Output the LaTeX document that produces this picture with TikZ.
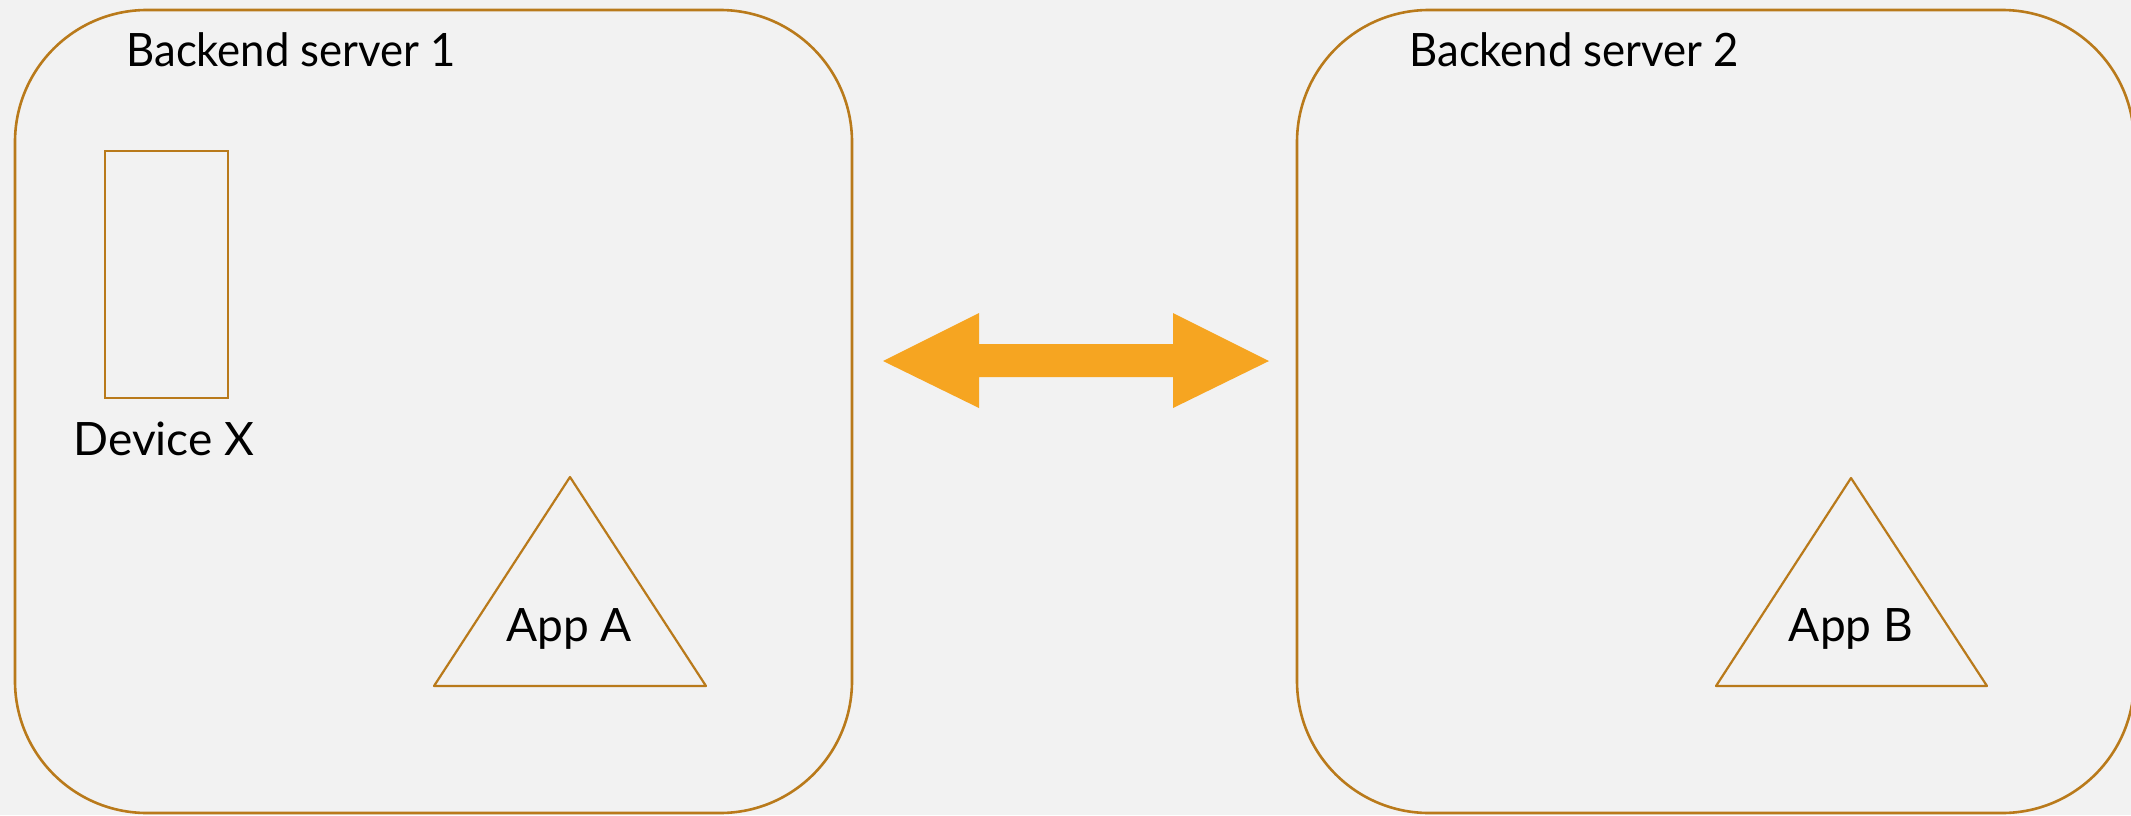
\documentclass[tikz,border=0pt]{standalone}
\usepackage{fontspec}
\setmainfont{Lato}
\definecolor{bg}{HTML}{F2F2F2}
\definecolor{edge}{HTML}{B97A1B}
\definecolor{orangefill}{HTML}{F6A521}
\begin{document}
\begin{tikzpicture}[x=0.5pt,y=-0.5pt,
  server/.style={draw=edge,line width=1.3pt,rounded corners=66pt,minimum width=418.5pt,minimum height=401.5pt,inner sep=0pt},
  device/.style={draw=edge,line width=1.1pt,minimum width=61.5pt,minimum height=123.5pt,inner sep=0pt},
  lbl/.style={font=\fontsize{23}{27}\selectfont,inner sep=0pt,text=black},
  app/.style={draw=edge,line width=1.1pt,line join=round}]
\useasboundingbox (0,0) rectangle (2131,815);
\fill[bg] (0,0) rectangle (2131,815);
% servers
\node[server] (s1) at (433.5,411.5) {};
\node[server] (s2) at (1715.5,411.5) {};
\node[lbl,anchor=base west,xscale=0.95] (t1) at (126,66) {Backend server 1};
\node[lbl,anchor=base west,xscale=0.95] (t2) at (1409,66) {Backend server 2};
% device
\node[device] (dx) at (166.5,274.5) {};
\node[lbl,anchor=base] (dxl) at (164,455) {Device X};
% apps
\coordinate (a1) at (570,477);
\coordinate (a2) at (434,686);
\coordinate (a3) at (706,686);
\draw[app] (a1) -- (a2) -- (a3) -- cycle;
\node[lbl,anchor=base] (al) at (569,641) {App A};
\coordinate (b1) at (1851,478);
\coordinate (b2) at (1716,686);
\coordinate (b3) at (1987,686);
\draw[app] (b1) -- (b2) -- (b3) -- cycle;
\node[lbl,anchor=base] (bl) at (1851,641) {App B};
% double arrow
\fill[orangefill] (883,361) -- (979,313) -- (979,344) -- (1173,344) -- (1173,313) -- (1269,361)
  -- (1173,408) -- (1173,377) -- (979,377) -- (979,408) -- cycle;
\end{tikzpicture}
\end{document}
